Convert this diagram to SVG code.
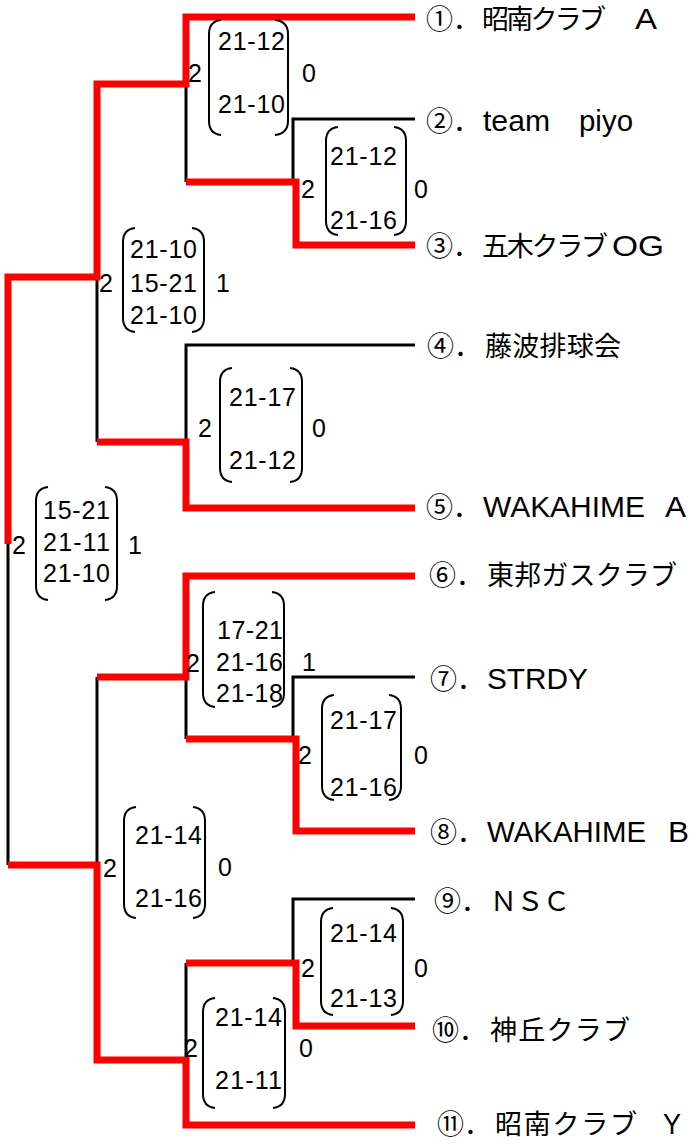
<svg xmlns="http://www.w3.org/2000/svg" width="696" height="1145" viewBox="0 0 696 1145">
<style>
.r{fill:none;stroke:#ff0000;stroke-width:7;stroke-linejoin:miter;stroke-linecap:butt}
.k{fill:none;stroke:#000;stroke-width:3;stroke-linecap:butt}
.br{fill:none;stroke:#000;stroke-width:2}
.sc{font-family:"Liberation Sans",Arial,sans-serif;font-size:25px;fill:#000}
.jp{font-family:"Noto Sans CJK JP",sans-serif;font-size:27px;fill:#000}
.lt{font-family:"Liberation Sans",Arial,sans-serif;font-size:29px;fill:#000}
</style>
<rect width="696" height="1145" fill="#fff"/>
<g id="connectors">
<path class="k" d="M415,119 H293 V182"/>
<path class="k" d="M186,84 V182"/>
<path class="k" d="M97,277 V442"/>
<path class="k" d="M415,345 H186 V442"/>
<path class="k" d="M8,543 V865"/>
<path class="k" d="M186,677 V739"/>
<path class="k" d="M415,677 H293 V739"/>
<path class="k" d="M97,677 V865"/>
<path class="k" d="M415,899 H293 V963"/>
<path class="k" d="M186,963 V1060"/>
<path class="r" d="M415,17 H186 V84 H97 V277 H8 V544"/>
<path class="r" d="M415,245 H296 V182 H186"/>
<path class="r" d="M415,508 H186 V442 H97"/>
<path class="r" d="M415,576 H186 V677 H97"/>
<path class="r" d="M415,831 H296 V739 H186"/>
<path class="r" d="M415,1026 H296 V963 H186"/>
<path class="r" d="M415,1125 H186 V1060 H97 V865 H8"/>
</g>
<g id="team1"><text class="jp" x="426" y="29">①．</text><text class="jp" x="482" y="29" textLength="124">昭南クラブ</text><text class="lt" x="635" y="29" textLength="22" lengthAdjust="spacingAndGlyphs">A</text></g>
<g id="team2"><text class="jp" x="426" y="131">②．</text><text class="lt" x="483" y="131" textLength="67" lengthAdjust="spacingAndGlyphs">team</text><text class="lt" x="579" y="131" textLength="54" lengthAdjust="spacingAndGlyphs">piyo</text></g>
<g id="team3"><text class="jp" x="426" y="256">③．</text><text class="jp" x="482" y="256" textLength="126">五木クラブ</text><text class="lt" x="612" y="256" textLength="52" lengthAdjust="spacingAndGlyphs">OG</text></g>
<g id="team4"><text class="jp" x="427" y="356">④．</text><text class="jp" x="485" y="356" textLength="136">藤波排球会</text></g>
<g id="team5"><text class="jp" x="426" y="517">⑤．</text><text class="lt" x="483" y="517" textLength="162" lengthAdjust="spacingAndGlyphs">WAKAHIME</text><text class="lt" x="665" y="517" textLength="21" lengthAdjust="spacingAndGlyphs">A</text></g>
<g id="team6"><text class="jp" x="429" y="585">⑥．</text><text class="jp" x="487" y="585" textLength="190">東邦ガスクラブ</text></g>
<g id="team7"><text class="jp" x="430" y="689">⑦．</text><text class="lt" x="487" y="689" textLength="101" lengthAdjust="spacingAndGlyphs">STRDY</text></g>
<g id="team8"><text class="jp" x="430" y="842">⑧．</text><text class="lt" x="487" y="842" textLength="159" lengthAdjust="spacingAndGlyphs">WAKAHIME</text><text class="lt" x="668" y="842" textLength="21" lengthAdjust="spacingAndGlyphs">B</text></g>
<g id="team9"><text class="jp" x="434" y="911">⑨．</text><text class="jp" x="490" y="911" textLength="80">ＮＳＣ</text></g>
<g id="team10"><text class="jp" x="432" y="1040">⑩．</text><text class="jp" x="490" y="1040" textLength="140">神丘クラブ</text></g>
<g id="team11"><text class="jp" x="437" y="1134">⑪．</text><text class="jp" x="495" y="1134" textLength="142">昭南クラブ</text><text class="lt" x="663" y="1134" textLength="18" lengthAdjust="spacingAndGlyphs">Y</text></g>

<g id="m1">
<path class="br" d="M221,20 C212,21 209,26 209,34 V121 C209,129 212,134 221,135"/>
<path class="br" d="M275,20 C284,21 288,26 288,34 V121 C288,129 284,134 275,135"/>
<text class="sc" x="188" y="82">2</text>
<text class="sc" x="218" y="50" textLength="67">21-12</text>
<text class="sc" x="218" y="113" textLength="67">21-10</text>
<text class="sc" x="302" y="82">0</text>
</g>
<g id="m2">
<path class="br" d="M338,127 C329,128 326,133 326,141 V221 C326,229 329,234 338,235"/>
<path class="br" d="M394,127 C403,128 406,133 406,141 V221 C406,229 403,234 394,235"/>
<text class="sc" x="301" y="198">2</text>
<text class="sc" x="330" y="165" textLength="67">21-12</text>
<text class="sc" x="330" y="229" textLength="67">21-16</text>
<text class="sc" x="414" y="198">0</text>
</g>
<g id="m3">
<path class="br" d="M135,228 C126,229 123,234 123,242 V318 C123,326 126,331 135,332"/>
<path class="br" d="M192,228 C201,229 204,234 204,242 V318 C204,326 201,331 192,332"/>
<text class="sc" x="99" y="292">2</text>
<text class="sc" x="130" y="258" textLength="67">21-10</text>
<text class="sc" x="130" y="292" textLength="67">15-21</text>
<text class="sc" x="130" y="324" textLength="67">21-10</text>
<text class="sc" x="216" y="292">1</text>
</g>
<g id="m4">
<path class="br" d="M232,368 C223,369 220,374 220,382 V468 C220,476 223,481 232,482"/>
<path class="br" d="M290,368 C299,369 302,374 302,382 V468 C302,476 299,481 290,482"/>
<text class="sc" x="198" y="437">2</text>
<text class="sc" x="229" y="406" textLength="67">21-17</text>
<text class="sc" x="229" y="469" textLength="67">21-12</text>
<text class="sc" x="312" y="437">0</text>
</g>
<g id="m5">
<path class="br" d="M48,487 C39,488 36,493 36,501 V586 C36,594 39,599 48,600"/>
<path class="br" d="M105,487 C114,488 117,493 117,501 V586 C117,594 114,599 105,600"/>
<text class="sc" x="12" y="554">2</text>
<text class="sc" x="43" y="519" textLength="67">15-21</text>
<text class="sc" x="43" y="551" textLength="67">21-11</text>
<text class="sc" x="43" y="582" textLength="67">21-10</text>
<text class="sc" x="128" y="554">1</text>
</g>
<g id="m6">
<path class="br" d="M215,592 C206,593 203,598 203,606 V693 C203,701 206,706 215,707"/>
<path class="br" d="M272,592 C281,593 284,598 284,606 V693 C284,701 281,706 272,707"/>
<text class="sc" x="186" y="672">2</text>
<text class="sc" x="217" y="639" textLength="66">17-21</text>
<text class="sc" x="216" y="671" textLength="67">21-16</text>
<text class="sc" x="216" y="702" textLength="67">21-18</text>
<text class="sc" x="302" y="671">1</text>
</g>
<g id="m7">
<path class="br" d="M334,695 C325,696 322,701 322,709 V786 C322,794 325,799 334,800"/>
<path class="br" d="M389,695 C398,696 401,701 401,709 V786 C401,794 398,799 389,800"/>
<text class="sc" x="298" y="764">2</text>
<text class="sc" x="330" y="729" textLength="67">21-17</text>
<text class="sc" x="330" y="796" textLength="67">21-16</text>
<text class="sc" x="414" y="764">0</text>
</g>
<g id="m8">
<path class="br" d="M136,807 C127,808 124,813 124,821 V904 C124,912 127,917 136,918"/>
<path class="br" d="M193,807 C202,808 205,813 205,821 V904 C205,912 202,917 193,918"/>
<text class="sc" x="103" y="877">2</text>
<text class="sc" x="135" y="844" textLength="67">21-14</text>
<text class="sc" x="135" y="907" textLength="67">21-16</text>
<text class="sc" x="218" y="876">0</text>
</g>
<g id="m9">
<path class="br" d="M333,908 C324,909 321,914 321,922 V1001 C321,1009 324,1014 333,1015"/>
<path class="br" d="M391,908 C400,909 403,914 403,922 V1001 C403,1009 400,1014 391,1015"/>
<text class="sc" x="301" y="977">2</text>
<text class="sc" x="330" y="942" textLength="67">21-14</text>
<text class="sc" x="330" y="1007" textLength="67">21-13</text>
<text class="sc" x="414" y="977">0</text>
</g>
<g id="m10">
<path class="br" d="M215,998 C206,999 203,1004 203,1012 V1094 C203,1102 206,1107 215,1108"/>
<path class="br" d="M273,998 C282,999 285,1004 285,1012 V1094 C285,1102 282,1107 273,1108"/>
<text class="sc" x="184" y="1057">2</text>
<text class="sc" x="215" y="1026" textLength="67">21-14</text>
<text class="sc" x="215" y="1089" textLength="67">21-11</text>
<text class="sc" x="299" y="1057">0</text>
</g>
</svg>
